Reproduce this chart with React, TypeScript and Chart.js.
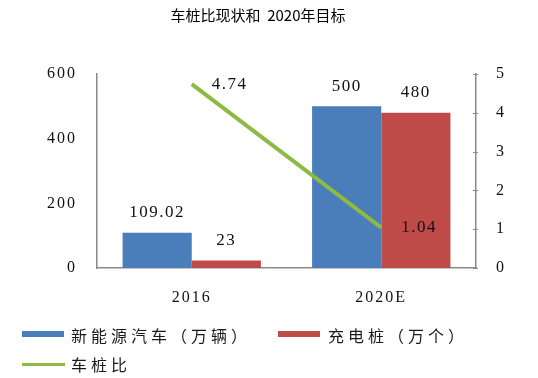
import React, { useEffect, useRef } from "react";
import { Chart, registerables } from "chart.js";

Chart.register(...registerables);

const titleText = "车桩比现状和  2020年目标";
const categories = ["2016", "2020E"];
const evLabel = "新能源汽车（万辆）";
const pileLabel = "充电桩（万个）";
const ratioLabel = "车桩比";
const evValues = [109.02, 500];
const pileValues = [23, 480];
const ratioValues = [4.74, 1.04];
const evLabels = ["109.02", "500"];
const pileLabels = ["23", "480"];
const ratioLabels = ["4.74", "1.04"];

const BLUE = "#4A7EBB";
const RED = "#BE4B48";
const GREEN = "#8DB944";
const AXIS = "#8A8A8A";
const SERIF = "'Liberation Serif', 'Times New Roman', serif";
const CJK = "'Noto Sans CJK SC', 'Noto Sans', sans-serif";

const spacingPlugin = {
  id: "spacing",
  beforeUpdate(chart: any) {
    chart.ctx.letterSpacing = "2px";
  },
  beforeDraw(chart: any) {
    chart.ctx.letterSpacing = "2px";
  },
};

const rightTicksPlugin = {
  id: "rightTicks",
  afterDraw(chart: any) {
    const s = chart.scales.y1;
    const ctx = chart.ctx;
    ctx.save();
    ctx.strokeStyle = AXIS;
    ctx.lineWidth = 1;
    s.ticks.forEach((t: any) => {
      const py = Math.round(s.getPixelForValue(t.value)) + 0.5;
      ctx.beginPath();
      ctx.moveTo(s.left - 3, py);
      ctx.lineTo(s.left + 2, py);
      ctx.stroke();
    });
    ctx.restore();
  },
};

const labelsPlugin = {
  id: "valueLabels",
  afterDatasetsDraw(chart: any) {
    const ctx = chart.ctx;
    ctx.save();
    ctx.letterSpacing = "1.5px";
    ctx.font = `17px ${SERIF}`;
    ctx.fillStyle = "#111";
    ctx.textBaseline = "middle";
    const sets = [evLabels, pileLabels];
    [0, 1].forEach((di) => {
      const meta = chart.getDatasetMeta(di);
      meta.data.forEach((el: any, i: number) => {
        ctx.textAlign = "center";
        ctx.fillText(sets[di][i], el.x, el.y - 20);
      });
    });
    const lm = chart.getDatasetMeta(2);
    lm.data.forEach((el: any, i: number) => {
      ctx.textAlign = "left";
      ctx.fillText(ratioLabels[i], el.x + 20, el.y);
    });
    ctx.restore();
  },
};

export default function App() {
  const ref = useRef<HTMLCanvasElement | null>(null);

  useEffect(() => {
    if (!ref.current) return;
    const chart = new Chart(ref.current, {
      type: "bar",
      data: {
        labels: categories,
        datasets: [
          {
            type: "bar",
            label: evLabel,
            data: evValues,
            backgroundColor: BLUE,
            yAxisID: "y",
            order: 2,
            categoryPercentage: 0.73,
            barPercentage: 1.0,
          } as any,
          {
            type: "bar",
            label: pileLabel,
            data: pileValues,
            backgroundColor: RED,
            yAxisID: "y",
            order: 2,
            categoryPercentage: 0.73,
            barPercentage: 1.0,
          } as any,
          {
            type: "line",
            label: ratioLabel,
            data: ratioValues,
            borderColor: GREEN,
            backgroundColor: GREEN,
            borderWidth: 4,
            pointRadius: 0,
            yAxisID: "y1",
            order: 0,
          } as any,
        ],
      },
      options: {
        responsive: false,
        animation: false,
        devicePixelRatio: 1,
        layout: { padding: { top: 74, left: 0, right: 0, bottom: 0 } },
        plugins: {
          legend: { display: false },
          title: { display: false },
          tooltip: { enabled: false },
        },
        scales: {
          x: {
            grid: { display: false, drawTicks: false },
            border: { display: true, color: AXIS, width: 1.5 },
            ticks: { font: { family: SERIF, size: 16 }, color: "#111", padding: 20 },
            afterFit(s: any) {
              s.height = 110;
            },
          },
          y: {
            position: "left",
            min: 0,
            max: 600,
            grid: { display: false, drawTicks: false },
            border: { display: true, color: AXIS, width: 1.5 },
            ticks: { stepSize: 200, font: { family: SERIF, size: 16 }, color: "#111", padding: 20 },
            afterFit(s: any) {
              s.width = 97;
            },
          },
          y1: {
            position: "right",
            min: 0,
            max: 5,
            grid: { display: false, drawTicks: false },
            border: { display: true, color: AXIS, width: 1.5 },
            ticks: { stepSize: 1, font: { family: SERIF, size: 16 }, color: "#111", padding: 20 },
            afterFit(s: any) {
              s.width = 62;
            },
          },
        },
      },
      plugins: [spacingPlugin, rightTicksPlugin, labelsPlugin],
    } as any);
    return () => chart.destroy();
  }, []);

  const legendText: React.CSSProperties = {
    position: "absolute",
    fontFamily: CJK,
    fontSize: 16,
    letterSpacing: "4px",
    color: "#1a1a1a",
    lineHeight: "20px",
    whiteSpace: "nowrap",
  };

  return (
    <div style={{ position: "relative", width: 538, height: 378, background: "#fff" }}>
      <style>{`body{margin:0}`}</style>
      <canvas ref={ref} width={538} height={378} style={{ display: "block", width: 538, height: 378 }} />
      <div
        style={{
          position: "absolute",
          top: 6,
          left: 148,
          width: 220,
          textAlign: "center",
          fontFamily: CJK,
          fontSize: 15,
          color: "#000",
          lineHeight: "18px",
          whiteSpace: "pre",
        }}
      >
        {titleText}
      </div>
      <div style={{ position: "absolute", left: 22, top: 331, width: 42, height: 6, background: BLUE }} />
      <div style={{ ...legendText, left: 71, top: 325 }}>{evLabel}</div>
      <div style={{ position: "absolute", left: 278, top: 331, width: 42, height: 6, background: RED }} />
      <div style={{ ...legendText, left: 328, top: 325 }}>{pileLabel}</div>
      <div style={{ position: "absolute", left: 22, top: 363, width: 43, height: 3, background: GREEN }} />
      <div style={{ ...legendText, left: 71, top: 354 }}>{ratioLabel}</div>
    </div>
  );
}
